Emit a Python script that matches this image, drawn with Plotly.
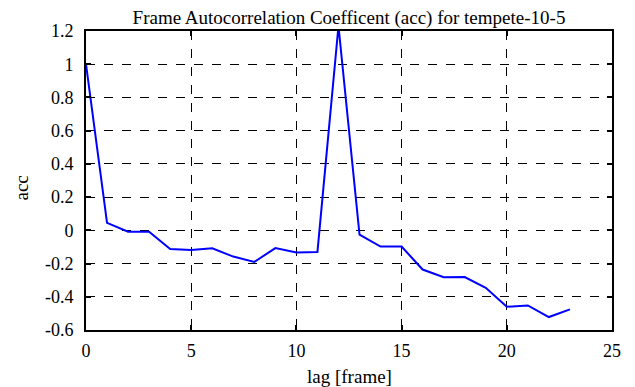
import plotly.graph_objects as go

lags = list(range(24))
acc = [1.0, 0.045, -0.008, -0.008, -0.112, -0.118, -0.108, -0.158, -0.19, -0.107,
       -0.134, -0.13, 1.23, -0.026, -0.098, -0.098, -0.236, -0.282, -0.281, -0.346,
       -0.46, -0.452, -0.522, -0.476]

xticks = [0, 5, 10, 15, 20, 25]
yticks = [-0.6, -0.4, -0.2, 0, 0.2, 0.4, 0.6, 0.8, 1, 1.2]
yticktext = ["-0.6", "-0.4", "-0.2", "0", "0.2", "0.4", "0.6", "0.8", "1", "1.2"]

font = "Liberation Serif, Times New Roman, serif"

fig = go.Figure()
fig.add_trace(go.Scatter(x=lags, y=acc, mode="lines",
                         line=dict(color="#0000ff", width=2)))

axis_common = dict(showline=True, linecolor="black", linewidth=2, mirror="ticks",
                   ticks="inside", ticklen=5, tickwidth=1.5, tickcolor="black",
                   showgrid=True, gridcolor="black", gridwidth=1, griddash="dash",
                   zeroline=False, tickfont=dict(family=font, size=18, color="black"))

fig.update_layout(
    width=627, height=379,
    margin=dict(l=78, r=23, t=23, b=57),
    paper_bgcolor="white", plot_bgcolor="white",
    showlegend=False,
    title=dict(text="Frame Autocorrelation Coefficent (acc) for tempete-10-5",
               x=0.5, xref="paper", xanchor="center", y=1 - 9 / 379, yref="container",
               yanchor="middle",
               font=dict(family=font, size=19, color="black")),
    xaxis=dict(range=[0, 25], tickvals=xticks, ticklabelstandoff=3, **axis_common),
    yaxis=dict(range=[-0.6, 1.2], tickvals=yticks, ticktext=yticktext,
               ticklabelstandoff=7, **axis_common),
    annotations=[
        dict(text="acc", xref="paper", yref="paper", x=0, y=0.5, xshift=-65, yshift=-8,
             xanchor="center", yanchor="middle", textangle=-90, showarrow=False,
             font=dict(family=font, size=19, color="black")),
        dict(text="lag [frame]", xref="paper", yref="paper", x=0.5, y=0, yshift=-46,
             xanchor="center", yanchor="middle", showarrow=False,
             font=dict(family=font, size=19, color="black")),
    ],
)

fig.write_html("out.html")
